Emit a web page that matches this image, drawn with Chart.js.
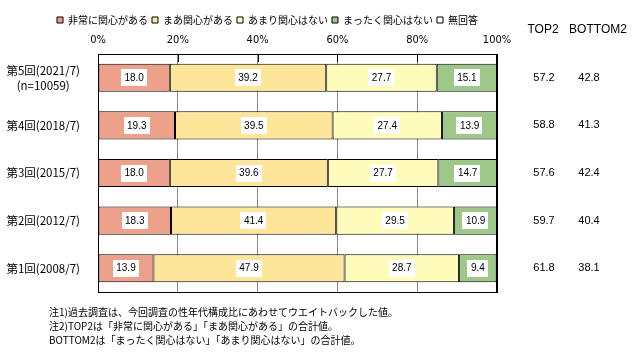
<!DOCTYPE html>
<html>
<head>
<meta charset="utf-8">
<script src="https://cdn.jsdelivr.net/npm/chart.js@4"></script>
<style>
  html, body { margin: 0; padding: 0; background: #fff; }
  #c { display: block; }
</style>
</head>
<body>
<canvas id="c" width="636" height="359"></canvas>
<script>
// ---- data ----
const categories = [
  ['第5回(2021/7)', '(n=10059)'],
  '第4回(2018/7)',
  '第3回(2015/7)',
  '第2回(2012/7)',
  '第1回(2008/7)'
];
const seriesNames = ['非常に関心がある', 'まあ関心がある', 'あまり関心はない', 'まったく関心はない', '無回答'];
const veryInterested     = [18.0, 19.3, 18.0, 18.3, 13.9];
const somewhatInterested = [39.2, 39.5, 39.6, 41.4, 47.9];
const notVery            = [27.7, 27.4, 27.7, 29.5, 28.7];
const notAtAll           = [15.1, 13.9, 14.7, 10.9, 9.4];
const noAnswer           = [0, 0, 0, 0, 0];
const top2Values         = [57.2, 58.8, 57.6, 59.7, 61.8];
const bottom2Values      = [42.8, 41.3, 42.4, 40.4, 38.1];
const xTickValues        = [0, 20, 40, 60, 80, 100];
const sideHeaders        = ['TOP2', 'BOTTOM2'];
const notes = [
  '注1)過去調査は、今回調査の性年代構成比にあわせてウエイトバックした値。',
  '注2)TOP2は「非常に関心がある」「まあ関心がある」の合計値。',
  'BOTTOM2は「まったく関心はない」「あまり関心はない」の合計値。'
];

const colors = ['#EDA08A', '#FDE59A', '#FFFBBB', '#9EC88A', '#FFFFFF'];
const seriesData = [veryInterested, somewhatInterested, notVery, notAtAll, noAnswer];

const JP = "'Noto Sans CJK JP', 'Noto Sans', sans-serif";
const NUM = "'Liberation Sans', Arial, sans-serif";
const NARROW = "'Liberation Sans Narrow', 'DejaVu Sans Condensed', 'Liberation Sans', sans-serif";

const extrasPlugin = {
  id: 'extras',
  beforeDatasetsDraw(chart) {
    // short black inside tick marks at the top of the plot
    const ctx = chart.ctx, x = chart.scales.x, a = chart.chartArea;
    ctx.save();
    ctx.strokeStyle = '#000';
    ctx.lineWidth = 1;
    xTickValues.forEach(v => {
      const px = Math.round(x.getPixelForValue(v)) + 0.5;
      ctx.beginPath();
      ctx.moveTo(px, a.top);
      ctx.lineTo(px, a.top + 8);
      ctx.stroke();
    });
    ctx.restore();
  },
  afterDatasetsDraw(chart) {
    const ctx = chart.ctx, a = chart.chartArea;
    ctx.save();
    // value labels in white boxes
    ctx.font = '10px ' + NUM;
    ctx.textAlign = 'center';
    ctx.textBaseline = 'middle';
    for (let d = 0; d < 4; d++) {
      const meta = chart.getDatasetMeta(d);
      meta.data.forEach((el, i) => {
        const v = chart.data.datasets[d].data[i];
        if (!v) return;
        const txt = v.toFixed(1);
        const cx = (el.x + el.base) / 2;
        const cy = el.y;
        const w = ctx.measureText(txt).width + 7;
        const h = 17;
        ctx.fillStyle = '#fff';
        ctx.fillRect(Math.round(cx - w / 2), Math.round(cy - h / 2), Math.round(w), h);
        ctx.fillStyle = '#000';
        ctx.fillText(txt, cx, cy + 0.5);
      });
    }
    // plot frame
    ctx.strokeStyle = '#000';
    ctx.lineWidth = 1;
    ctx.strokeRect(Math.round(a.left) + 0.5, Math.round(a.top) + 0.5,
                   Math.round(a.right - a.left), Math.round(a.bottom - a.top));
    ctx.lineWidth = 2;
    ctx.beginPath();
    ctx.moveTo(Math.round(a.right), a.top);
    ctx.lineTo(Math.round(a.right), a.bottom);
    ctx.stroke();
    ctx.restore();
  },
  afterDraw(chart) {
    const ctx = chart.ctx, y = chart.scales.y;
    ctx.save();
    ctx.fillStyle = '#000';
    ctx.textBaseline = 'middle';
    ctx.textAlign = 'center';
    ctx.font = '12px ' + NUM;
    ctx.fillText(sideHeaders[0], 543, 30);
    ctx.fillText(sideHeaders[1], 598, 30);
    ctx.font = '11px ' + NUM;
    categories.forEach((c, i) => {
      const py = y.getPixelForValue(i);
      ctx.fillText(top2Values[i].toFixed(1), 544, py);
      ctx.fillText(bottom2Values[i].toFixed(1), 589, py);
    });
    ctx.textAlign = 'left';
    ctx.font = '10px ' + JP;
    notes.forEach((n, i) => ctx.fillText(n, 49, 312 + i * 14));
    ctx.restore();
  }
};

new Chart(document.getElementById('c'), {
  type: 'bar',
  data: {
    labels: categories,
    datasets: seriesNames.map((name, k) => ({
      label: name,
      data: seriesData[k],
      backgroundColor: colors[k],
      borderColor: '#000',
      borderWidth: 1,
      borderSkipped: false,
      barPercentage: 0.59,
      categoryPercentage: 1.0
    }))
  },
  options: {
    indexAxis: 'y',
    responsive: false,
    animation: false,
    devicePixelRatio: 1,
    layout: { padding: { left: 0, right: 101, top: 11, bottom: 67 } },
    plugins: {
      legend: {
        display: true,
        position: 'top',
        align: 'center',
        labels: {
          boxWidth: 6,
          boxHeight: 6,
          padding: 4,
          color: '#000',
          font: { size: 10, family: JP }
        }
      },
      tooltip: { enabled: false }
    },
    scales: {
      x: {
        type: 'linear',
        position: 'top',
        stacked: true,
        min: 0,
        max: 100,
        afterBuildTicks(s) { s.ticks = xTickValues.map(v => ({ value: v })); },
        ticks: {
          padding: 7.4,
          color: '#000',
          font: { size: 11, family: NARROW },
          callback: v => v + '%'
        },
        grid: { color: '#888', lineWidth: 1, drawTicks: false },
        border: { display: true, color: '#000', width: 1 },
        afterFit(s) { s.height = 19; }
      },
      y: {
        type: 'category',
        stacked: true,
        ticks: {
          padding: 10,
          crossAlign: 'center',
          color: '#000',
          font: { size: 11.5, family: JP, lineHeight: 1.3 }
        },
        grid: { display: false },
        border: { display: true, color: '#000', width: 1 },
        afterFit(s) { s.width = 98; }
      },
      spacer: {
        type: 'linear',
        position: 'right',
        display: true,
        ticks: { display: false },
        grid: { display: false },
        border: { display: false },
        afterFit(s) { s.width = 38; }
      }
    }
  },
  plugins: [extrasPlugin]
});
</script>
</body>
</html>
